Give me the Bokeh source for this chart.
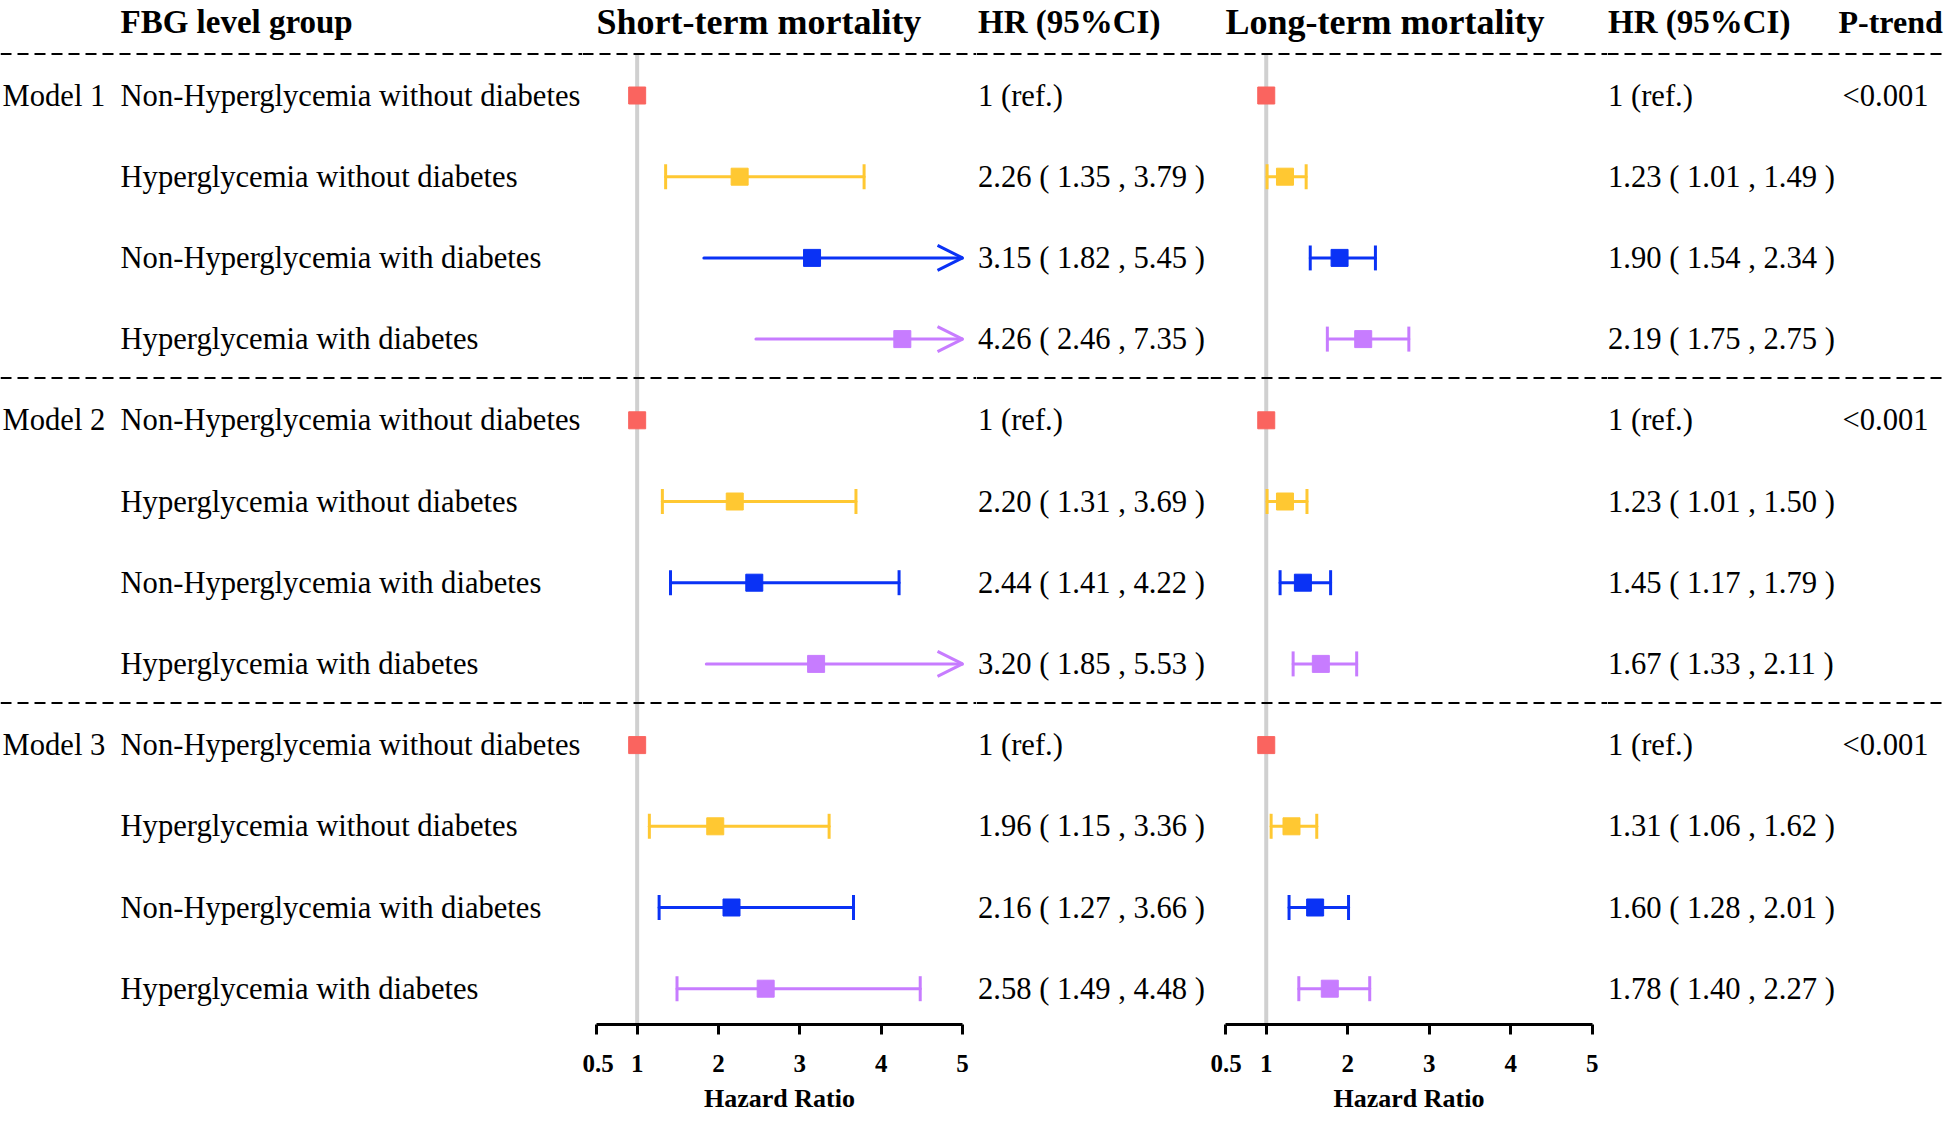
from bokeh.plotting import figure
from bokeh.layouts import row
from bokeh.models import (ColumnDataSource, Range1d, Span, Whisker, TeeHead,
                          OpenHead, FixedTicker)
from bokeh.core.properties import value
from bokeh.embed import file_html
from bokeh.resources import INLINE

# ---------------- data ----------------
models = ["Model 1", "Model 2", "Model 3"]
groups = ["Non-Hyperglycemia without diabetes", "Hyperglycemia without diabetes",
          "Non-Hyperglycemia with diabetes", "Hyperglycemia with diabetes"]

short_hr = [1, 2.26, 3.15, 4.26, 1, 2.20, 2.44, 3.20, 1, 1.96, 2.16, 2.58]
short_lo = [None, 1.35, 1.82, 2.46, None, 1.31, 1.41, 1.85, None, 1.15, 1.27, 1.49]
short_hi = [None, 3.79, 5.45, 7.35, None, 3.69, 4.22, 5.53, None, 3.36, 3.66, 4.48]

long_hr = [1, 1.23, 1.90, 2.19, 1, 1.23, 1.45, 1.67, 1, 1.31, 1.60, 1.78]
long_lo = [None, 1.01, 1.54, 1.75, None, 1.01, 1.17, 1.33, None, 1.06, 1.28, 1.40]
long_hi = [None, 1.49, 2.34, 2.75, None, 1.50, 1.79, 2.11, None, 1.62, 2.01, 2.27]

p_trend = ["<0.001", "<0.001", "<0.001"]

x_ticks = [0.5, 1, 2, 3, 4, 5]
x_tick_labels = ["0.5", "1", "2", "3", "4", "5"]
x_max = 5

headers = ["FBG level group", "Short-term mortality", "HR (95%CI)",
           "Long-term mortality", "HR (95%CI)", "P-trend"]

# ---------------- styles / layout ----------------
palette = ["#FA645F", "#FFC832", "#0A32F5", "#C77CFF"]
FONT = "Liberation Serif"
ROW_FONT = "30.6px"
FRAME_H = 1024
ROW_PX = 81.2
ROW0_PX = 95.0
Y_TOP = -ROW0_PX / ROW_PX
Y_BOTTOM = (FRAME_H - ROW0_PX) / ROW_PX
HEADER_Y = -0.905
SEPARATORS = [-0.51, 3.48, 7.48]

n_rows = len(models) * len(groups)
rows = list(range(n_rows))
row_colors = [palette[i % len(groups)] for i in rows]
model_rows = [rows[i * len(groups)] for i in range(len(models))]

y_range = Range1d(Y_BOTTOM, Y_TOP)


def base_fig(fw, xr, forest=False):
    kw = dict(frame_width=fw, frame_height=FRAME_H, x_range=xr, y_range=y_range,
              y_axis_type=None, output_backend="svg", toolbar_location=None,
              min_border_left=0, min_border_right=0, min_border_top=0,
              min_border_bottom=0, outline_line_color=None,
              background_fill_color="white", border_fill_color="white")
    if not forest:
        kw["x_axis_type"] = None
    p = figure(**kw)
    p.xgrid.visible = False
    p.ygrid.visible = False
    for s in SEPARATORS:
        p.add_layout(Span(location=s, dimension="width", line_color="black",
                          line_width=2, line_dash="11 6"))
    return p


def add_text(p, xs, ys, texts, size=ROW_FONT, bold=False):
    p.text(x=xs, y=ys, text=texts, text_font=value(FONT), text_font_size=size,
           text_font_style="bold" if bold else "normal", text_color="black",
           text_align="left", text_baseline="middle")


def hr_strings(hr, lo, hi):
    out = []
    for h, l, u in zip(hr, lo, hi):
        out.append("1 (ref.)" if l is None else f"{h:.2f} ( {l:.2f} , {u:.2f} )")
    return out


def forest(hr, lo, hi, header, fw, x0, x1):
    p = base_fig(fw, Range1d(x0, x1), forest=True)
    p.segment(x0=[1], y0=[SEPARATORS[0]], x1=[1], y1=[Y_BOTTOM],
              line_color="#d0d0d0", line_width=4, level="underlay")
    for i in rows:
        if lo[i] is None:
            continue
        c = row_colors[i]
        arrow = hi[i] > x_max
        src = ColumnDataSource(dict(base=[rows[i]], lower=[lo[i]],
                                    upper=[min(hi[i], x_max)]))
        lh = None if arrow else TeeHead(size=25, line_color=c, line_width=3)
        uh = (OpenHead(size=25, line_color=c, line_width=3) if arrow
              else TeeHead(size=25, line_color=c, line_width=3))
        p.add_layout(Whisker(source=src, base="base", lower="lower", upper="upper",
                             dimension="width", line_color=c, line_width=3,
                             line_cap="round", lower_head=lh, upper_head=uh,
                             level="underlay"))
    p.scatter(x=hr, y=rows, marker="square", size=17, fill_color=row_colors,
              line_color=row_colors)
    add_text(p, [0.5], [HEADER_Y], [header], size="36px", bold=True)
    ax = p.xaxis[0]
    ax.ticker = FixedTicker(ticks=x_ticks)
    ax.major_label_overrides = {t: l for t, l in zip(x_ticks, x_tick_labels)}
    ax.bounds = (x_ticks[0], x_ticks[-1])
    ax.axis_label = "Hazard Ratio"
    ax.axis_label_text_font = FONT
    ax.axis_label_text_font_style = "bold"
    ax.axis_label_text_font_size = "26px"
    ax.axis_label_text_color = "black"
    ax.axis_label_standoff = 9
    ax.major_label_text_font = FONT
    ax.major_label_text_font_style = "bold"
    ax.major_label_text_font_size = "25px"
    ax.major_label_text_color = "black"
    ax.major_label_standoff = 20
    ax.axis_line_width = 3
    ax.axis_line_color = "black"
    ax.major_tick_line_width = 3
    ax.major_tick_line_color = "black"
    ax.major_tick_in = 0
    ax.major_tick_out = 10
    ax.minor_tick_line_color = None
    return p


# left label panel
p_left = base_fig(582, Range1d(0, 582))
add_text(p_left, [120], [HEADER_Y], [headers[0]], size="33px", bold=True)
add_text(p_left, [2] * len(models), model_rows, models)
add_text(p_left, [120] * n_rows, rows, [groups[i % len(groups)] for i in rows])

# short-term forest: frame 582..976 px, axis 0.5..5 at 596..962 px
p_short = forest(short_hr, short_lo, short_hi, headers[1], 394, 0.328, 5.172)

# HR text 1: frame 976..1210 px
p_hr1 = base_fig(234, Range1d(976, 1210))
add_text(p_hr1, [977.5], [HEADER_Y], [headers[2]], size="33px", bold=True)
add_text(p_hr1, [977.5] * n_rows, rows, hr_strings(short_hr, short_lo, short_hi))

# long-term forest: frame 1210..1607 px, axis 0.5..5 at 1225..1592 px
p_long = forest(long_hr, long_lo, long_hi, headers[3], 397, 0.316, 5.188)

# HR text 2 + P-trend: frame 1607..1944 px
p_right = base_fig(337, Range1d(1607, 1944))
add_text(p_right, [1607.5], [HEADER_Y], [headers[4]], size="33px", bold=True)
add_text(p_right, [1838], [HEADER_Y], [headers[5]], size="32px", bold=True)
add_text(p_right, [1607.5] * n_rows, rows, hr_strings(long_hr, long_lo, long_hi))
add_text(p_right, [1842] * len(models), model_rows, p_trend)

layout = row(p_left, p_short, p_hr1, p_long, p_right, spacing=0)

open("out.html", "w").write(file_html(layout, INLINE, title="FBG forest plot"))
